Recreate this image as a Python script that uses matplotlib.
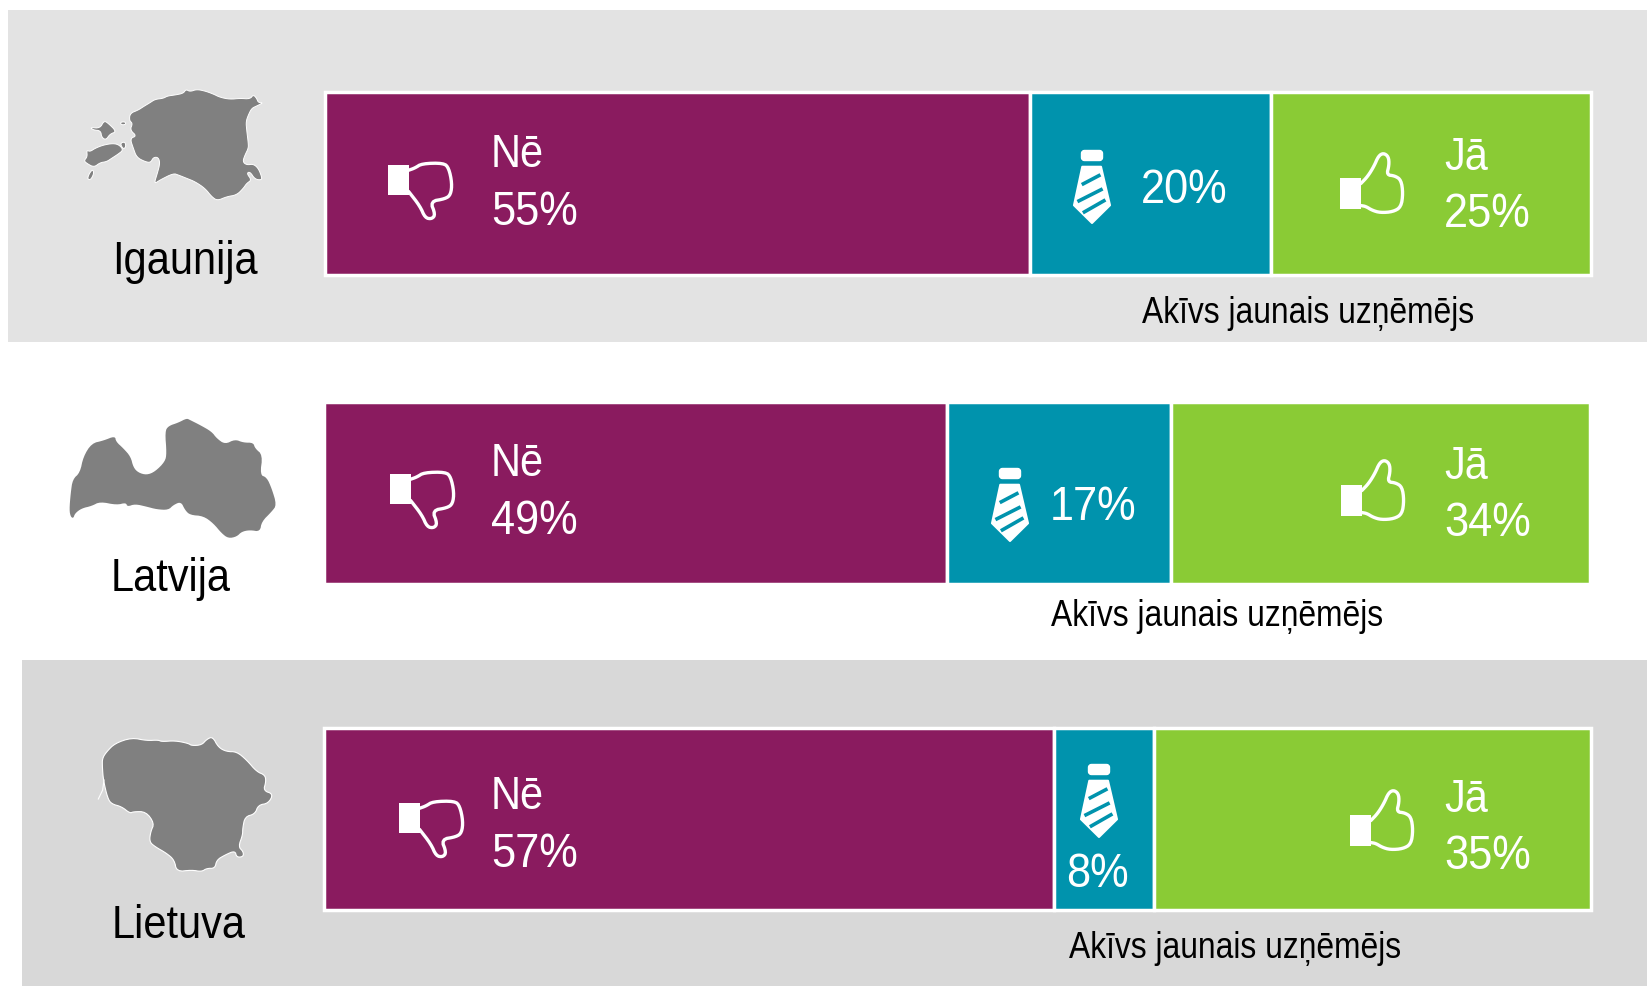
import matplotlib
matplotlib.use("Agg")
import matplotlib.pyplot as plt
from matplotlib import font_manager
from matplotlib.patches import Rectangle, Polygon, FancyBboxPatch
from fontTools.ttLib import TTFont

W, H = 1647, 986

# ---- data ----
countries = ["Igaunija", "Latvija", "Lietuva"]
answers = ["Nē", "Jā"]
caption = "Akīvs jaunais uzņēmējs"
no_pct = [55, 49, 57]
active_pct = [20, 17, 8]
yes_pct = [25, 34, 35]
# segment lengths as they are drawn in the picture (not quite the printed numbers)
no_drawn = [55.7, 49.2, 57.6]
active_drawn = [19.0, 17.7, 7.9]
yes_drawn = [25.3, 33.1, 34.5]

PURPLE = "#8a1b5f"
BLUE = "#0093ad"
GREEN = "#8acb35"
GREY = "#808080"

# ---- layout, in reference pixels ----
bar_boxes = [(325.2, 91.7, 1265.5, 183), (324.3, 402.2, 1265.5, 181.6), (324.3, 728.2, 1266.5, 182)]
text_x = dict(no=491, yes=1444)
no_base = [(167, 225), (476, 534), (809, 867)]
yes_base = [(170, 227), (479, 536), (812, 869)]
active_pos = [(1141, 203), (1050, 520), (1066, 887)]
caption_pos = [(1142, 323), (1051, 626), (1069, 958)]
country_pos = [(112, 274), (111, 591), (112, 938)]
down_pos = [(388, 163), (390, 472), (399, 801)]
up_pos = [(1340, 153), (1341, 460), (1350, 790)]
tie_pos = [(1074, 149), (992, 467), (1081, 763)]

# ---- shapes ----
thumb_up = [(0.33, 0.51), (0.44, 0.39), (0.54, 0.22), (0.61, 0.05), (0.69, 0), (0.77, 0.06), (0.78, 0.2),
            (0.74, 0.365), (0.87, 0.38), (0.97, 0.45), (1.0, 0.67), (0.97, 0.9), (0.84, 0.98), (0.64, 0.995),
            (0.51, 0.955), (0.41, 0.89), (0.33, 0.876)]
thumb_down = [(0.32, 0.13), (0.42, 0.09), (0.53, 0.01), (0.87, 0), (0.95, 0.09), (1, 0.36), (0.98, 0.565),
              (0.895, 0.64), (0.66, 0.685), (0.74, 0.92), (0.685, 1), (0.58, 0.98), (0.5, 0.77), (0.32, 0.506)]
tie_body = [(0.23, 0.24), (0.75, 0.24), (1.0, 0.76), (0.5, 1.0), (0.0, 0.76)]
tie_stripes = [((0.26, 0.47), (0.69, 0.36)), ((0.14, 0.70), (0.75, 0.55)), ((0.29, 0.85), (0.83, 0.70))]

estonia_main = [(150, 100), (175, 90), (190, 80), (210, 68), (225, 58), (250, 55), (262, 48), (285, 45), (310, 40),
                (318, 28), (330, 35), (350, 28), (375, 33), (400, 42), (420, 52), (450, 58), (480, 55), (510, 57),
                (520, 44), (530, 55), (535, 68), (550, 68), (530, 78), (515, 85), (505, 105), (498, 125), (500, 150),
                (505, 190), (505, 205), (495, 225), (488, 245), (500, 255), (520, 252), (535, 265), (545, 290),
                (545, 300), (525, 298), (510, 275), (500, 280), (515, 300), (500, 310), (490, 325), (470, 345),
                (440, 350), (412, 362), (395, 350), (375, 325), (345, 305), (320, 295), (295, 285), (280, 280),
                (240, 300), (222, 312), (232, 280), (240, 250), (235, 232), (220, 232), (212, 248), (195, 245),
                (170, 232), (160, 205), (150, 175), (170, 168), (150, 150), (158, 130), (148, 122)]
estonia_isl = [
    [(12, 242), (22, 230), (20, 210), (30, 215), (45, 205), (70, 195), (100, 190), (118, 195), (130, 210),
     (115, 222), (95, 235), (80, 245), (60, 248), (42, 262), (20, 250)],
    [(38, 268), (42, 280), (32, 300), (22, 297), (28, 280)],
    [(120, 190), (135, 185), (138, 200), (130, 208)],
    [(30, 142), (60, 145), (72, 122), (85, 130), (110, 155), (90, 162), (78, 180), (65, 172), (62, 152), (40, 150)],
    [(120, 127), (135, 125), (138, 133), (125, 135)],
]
latvia = [(88, 360), (92, 310), (98, 268), (120, 248), (130, 200), (155, 160), (190, 152), (225, 138), (228, 155),
          (250, 175), (272, 200), (280, 232), (295, 248), (320, 255), (345, 245), (375, 215), (380, 190), (375, 125),
          (385, 108), (415, 98), (440, 85), (450, 90), (480, 105), (515, 125), (530, 145), (555, 163), (585, 148),
          (610, 158), (640, 158), (645, 175), (668, 195), (660, 255), (680, 262), (695, 295), (710, 345), (695, 365),
          (665, 395), (660, 425), (630, 420), (605, 425), (590, 440), (565, 445), (545, 430), (520, 400), (490, 378),
          (450, 375), (435, 360), (423, 335), (400, 345), (385, 360), (350, 358), (320, 350), (285, 342), (262, 350),
          (258, 338), (230, 345), (180, 335), (155, 348), (125, 355), (105, 370), (100, 385), (92, 380)]
lithuania = [(127, 175), (140, 155), (165, 130), (215, 113), (260, 122), (295, 120), (305, 125), (345, 122),
             (385, 130), (395, 137), (425, 135), (440, 118), (458, 110), (475, 142), (500, 155), (530, 155),
             (560, 180), (590, 215), (615, 225), (618, 245), (610, 272), (640, 282), (625, 310), (595, 315),
             (585, 342), (555, 350), (548, 385), (548, 405), (535, 440), (550, 455), (550, 470), (530, 472),
             (525, 452), (495, 465), (470, 480), (465, 505), (440, 505), (425, 515), (395, 510), (350, 515),
             (343, 480), (320, 460), (285, 440), (268, 425), (272, 395), (283, 370), (258, 335), (220, 335),
             (210, 340), (185, 320), (155, 312), (143, 295), (130, 240), (127, 200)]
lithuania_curl = [(132, 240), (128, 270), (115, 297)]


def narrow_font(factor=0.88, name="Liberation Narrowed"):
    # no condensed face is installed, so squeeze Liberation Sans into a local copy
    font = TTFont(font_manager.findfont("Liberation Sans"))
    glyf = font["glyf"]
    hmtx = font["hmtx"]
    for g in font.getGlyphOrder():
        glyph = glyf[g]
        if glyph.isComposite():
            for comp in glyph.components:
                comp.x = int(comp.x * factor)
        elif glyph.numberOfContours > 0:
            glyph.coordinates.scale((factor, 1))
            glyph.coordinates.toInt()
        glyph.removeHinting()
        adv, lsb = hmtx[g]
        hmtx[g] = (int(adv * factor), int(lsb * factor))
    for tag in ["kern", "GPOS", "fpgm", "prep", "cvt ", "hdmx", "VDMX", "LTSH"]:
        if tag in font:
            del font[tag]
    for rec in font["name"].names:
        if rec.nameID in (1, 4, 16):
            rec.string = name
        elif rec.nameID == 6:
            rec.string = name.replace(" ", "")
    font.save("narrow.ttf")
    font_manager.fontManager.addfont("narrow.ttf")
    return name


plt.rcParams['font.family'] = [narrow_font(), 'Liberation Sans', 'DejaVu Sans']


def from_zoom(pts, ox, oy, sx, sy):
    return [(ox + x / sx, oy + y / sy) for x, y in pts]


def fit(pts, x, y, w, h):
    return [(x + px * w, y + py * h) for px, py in pts]


def soften(pts, closed=True):
    # one or two rounds of corner cutting so the traced outlines are not angular
    for _ in range(2):
        out = []
        n = len(pts)
        last = n if closed else n - 1
        if not closed:
            out.append(pts[0])
        for i in range(last):
            a, b = pts[i], pts[(i + 1) % n]
            out.append((0.75 * a[0] + 0.25 * b[0], 0.75 * a[1] + 0.25 * b[1]))
            out.append((0.25 * a[0] + 0.75 * b[0], 0.25 * a[1] + 0.75 * b[1]))
        if not closed:
            out.append(pts[-1])
        pts = out
    return pts


def draw_thumb(ax, x, y, down=False):
    shape = thumb_down if down else thumb_up
    w, h = (64, 56) if down else (63, 60)
    ax.add_patch(Polygon(soften(fit(shape, x, y, w, h), closed=False), closed=False, fill=False, ec="white",
                         lw=2.4, joinstyle="round", capstyle="round", zorder=6))
    top, high = (0.04, 0.54) if down else (0.42, 0.52)
    ax.add_patch(Rectangle((x, y + top * h), 0.33 * w, high * h, fc="white", ec="none", zorder=6))


def draw_tie(ax, x, y):
    w, h = 36, 74
    ax.add_patch(FancyBboxPatch((x + 7.5, y + 1.5), 21, 10, boxstyle="round,pad=0,rounding_size=3",
                                fc="white", ec="white", lw=1, zorder=6))
    ax.add_patch(Polygon(fit(tie_body, x, y, w, h), closed=True, fc="white", ec="white", lw=1.5,
                         joinstyle="round", zorder=6))
    for a, b in tie_stripes:
        ax.plot([x + a[0] * w, x + b[0] * w], [y + a[1] * h, y + b[1] * h], color=BLUE, lw=2.6, zorder=7)


fig = plt.figure(figsize=(W / 100, H / 100), dpi=100, facecolor="white")
over = fig.add_axes([0, 0, 1, 1], zorder=3)
over.set_xlim(0, W)
over.set_ylim(H, 0)
over.axis("off")
over.patch.set_alpha(0)

back = fig.add_axes([0, 0, 1, 1], zorder=1)
back.set_xlim(0, W)
back.set_ylim(H, 0)
back.axis("off")
back.add_patch(Rectangle((8, 9.5), W - 8, 332, fc="#e3e3e3", ec="none"))
back.add_patch(Rectangle((22, 660), W - 22, 326, fc="#d8d8d8", ec="none"))

# stacked bars, one small axes per country
for i in range(3):
    x, y, w, h = bar_boxes[i]
    ax = fig.add_axes([x / W, 1 - (y + h) / H, w / W, h / H], zorder=2)
    ax.set_xlim(0, 100)
    ax.set_ylim(-0.5, 0.5)
    ax.axis("off")
    left = 0
    for val, col in zip([no_drawn[i], active_drawn[i], yes_drawn[i]], [PURPLE, BLUE, GREEN]):
        ax.barh(0, val, left=left, height=1, color=col, edgecolor="white", linewidth=2.5, clip_on=False)
        left += val

# maps
for pts in [estonia_main] + estonia_isl:
    over.add_patch(Polygon(soften(from_zoom(pts, 80, 80, 3, 3)), closed=True, fc=GREY, ec="white", lw=0.7, zorder=4))
over.add_patch(Polygon(soften(from_zoom(latvia, 40, 390, 3, 3)), closed=True, fc=GREY, ec="none", zorder=4))
over.add_patch(Polygon(soften(from_zoom(lithuania, 60, 700, 3, 3)), closed=True, fc=GREY, ec="white", lw=0.8, zorder=4))
curl = from_zoom(lithuania_curl, 60, 700, 3, 3)
over.plot([p[0] for p in curl], [p[1] for p in curl], color="white", lw=0.8, zorder=4)

# labels and icons
for i in range(3):
    over.text(*country_pos[i], countries[i], fontsize=34, color="black", va="baseline", ha="left")
    over.text(*caption_pos[i], caption, fontsize=26, color="black", va="baseline", ha="left")
    over.text(text_x["no"], no_base[i][0], answers[0], fontsize=34, color="white", va="baseline", zorder=8)
    over.text(text_x["no"], no_base[i][1], f"{no_pct[i]}%", fontsize=35.5, color="white", va="baseline", zorder=8)
    over.text(text_x["yes"], yes_base[i][0], answers[1], fontsize=34, color="white", va="baseline", zorder=8)
    over.text(text_x["yes"], yes_base[i][1], f"{yes_pct[i]}%", fontsize=35.5, color="white", va="baseline", zorder=8)
    over.text(*active_pos[i], f"{active_pct[i]}%", fontsize=35.5, color="white", va="baseline", zorder=8)
    draw_thumb(over, *down_pos[i], down=True)
    draw_thumb(over, *up_pos[i])
    draw_tie(over, *tie_pos[i])

plt.savefig("out.png", dpi=100)
plt.close()
